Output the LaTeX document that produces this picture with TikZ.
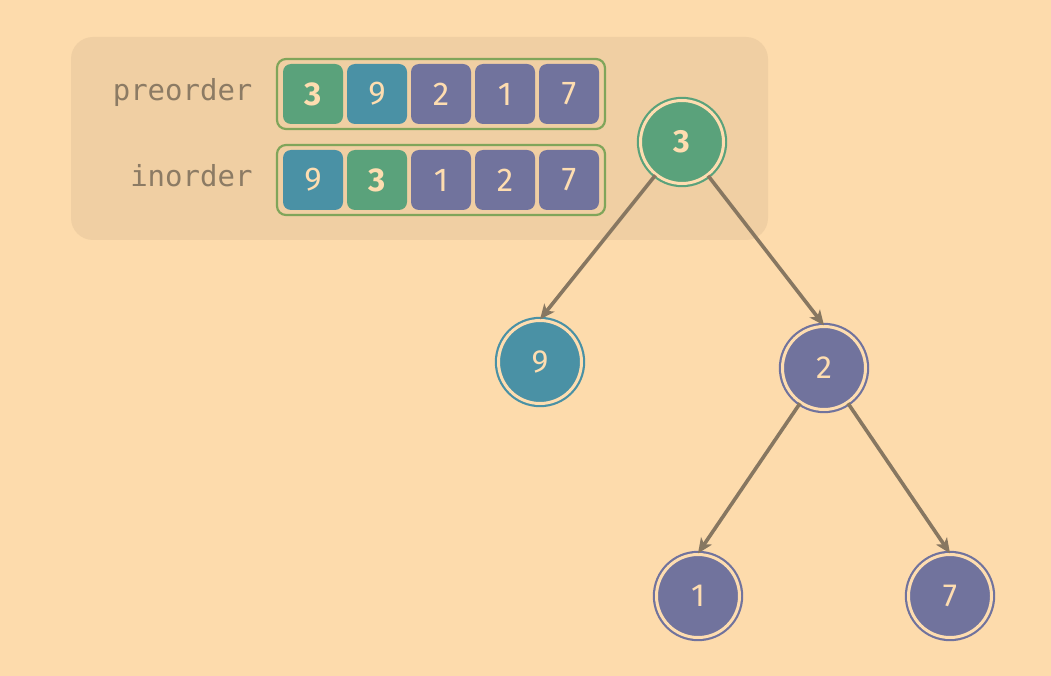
\documentclass[tikz,border=0pt]{standalone}
\usepackage{fontspec}
\usepackage{xcolor}
\usepackage{tikz}
\usetikzlibrary{arrows.meta}
\setmainfont{Fira Sans}
\newfontfamily\monofont{DejaVu Sans Mono}

\definecolor{bgpeach}{HTML}{FDDBAC}
\definecolor{panelcol}{HTML}{F0CFA3}
\definecolor{cream}{HTML}{FEDDB0}
\definecolor{rootgreen}{HTML}{5AA27B}
\definecolor{leftteal}{HTML}{4A91A5}
\definecolor{rightpurple}{HTML}{71739D}
\definecolor{framegreen}{HTML}{80A55A}
\definecolor{edgecol}{HTML}{877761}
\definecolor{labelcol}{HTML}{8C7B64}

\tikzset{>={Stealth[length=15pt,width=13pt,inset=4pt]}}
\tikzset{
  cell/.style={fill=#1, rounded corners=8pt, minimum width=60pt, minimum height=60pt,
    inner sep=0pt, text=cream, font=\fontsize{33}{33}\selectfont},
  arrframe/.style={draw=framegreen, line width=2.2pt, rounded corners=9pt,
    minimum width=328pt, minimum height=70pt, inner sep=0pt},
  arrlabel/.style={anchor=base east, text=labelcol, font=\monofont\fontsize{29}{29}\selectfont},
  treenode/.style={circle, draw=#1, fill=#1, line width=2.2pt, double=cream,
    double distance=3pt, minimum size=83pt, inner sep=0pt, text=cream,
    font=\fontsize{32}{32}\selectfont},
  treeedge/.style={->, draw=edgecol, line width=3.6pt}
}

\begin{document}
\begin{tikzpicture}[x=1pt,y=-1pt]
    \fill[bgpeach] (0,0) rectangle (1051,676);
    \useasboundingbox (0,0) rectangle (1051,676);
    \fill[panelcol, rounded corners=22pt] (71,37) rectangle (768,240);

    % traversal arrays
    \node[arrlabel] (prelabel) at (256,101) {preorder};
    \node[arrlabel] (inlabel) at (256,187) {inorder};
    \node[arrframe] (preframe) at (441,94) {};
    \node[arrframe] (inframe) at (441,180) {};
    \foreach \v/\c/\f [count=\i] in {3/rootgreen/\bfseries, 9/leftteal/, 2/rightpurple/,
        1/rightpurple/, 7/rightpurple/}
      \node[cell=\c] (pre\i) at (249+64*\i,94) {\f\v};
    \foreach \v/\c/\f [count=\i] in {9/leftteal/, 3/rootgreen/\bfseries, 1/rightpurple/,
        2/rightpurple/, 7/rightpurple/}
      \node[cell=\c] (in\i) at (249+64*\i,180) {\f\v};

    % tree
    \node[treenode=rootgreen] (n3) at (682,142) {\bfseries 3};
    \node[treenode=leftteal] (n9) at (540,362) {9};
    \node[treenode=rightpurple] (n2) at (824,368) {2};
    \node[treenode=rightpurple] (n1) at (698,596) {1};
    \node[treenode=rightpurple] (n7) at (950,596) {7};
    \draw[treeedge] (n3) -- (n9.north);
    \draw[treeedge] (n3) -- (n2.north);
    \draw[treeedge] (n2) -- (n1.north);
    \draw[treeedge] (n2) -- (n7.north);
\end{tikzpicture}
\end{document}
